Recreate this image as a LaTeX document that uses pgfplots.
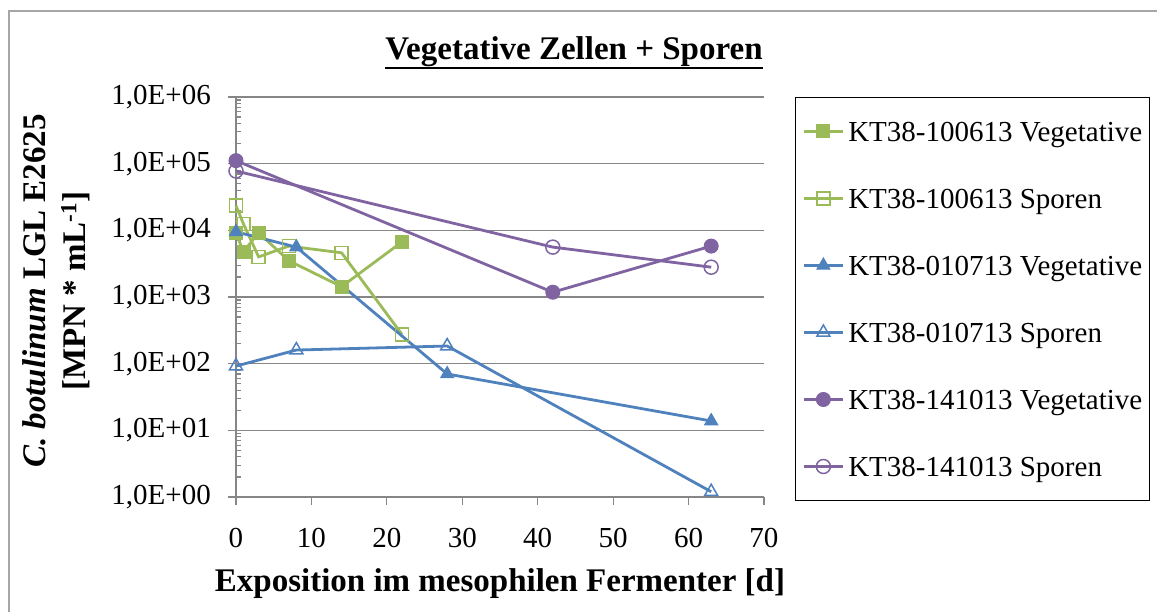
\documentclass[border=0pt]{standalone}
\usepackage{fontspec}
\setmainfont{Liberation Serif}
\usepackage{pgfplots}
\pgfplotsset{compat=1.18}
\definecolor{xlgreen}{HTML}{9BBB59}
\definecolor{xlblue}{HTML}{4F81BD}
\definecolor{xlpurple}{HTML}{8064A2}
\definecolor{xlgrid}{HTML}{868686}
\begin{document}
\begin{tikzpicture}
\useasboundingbox (0pt,0pt) rectangle (1157pt,612pt);
\draw[color=gray!70, line width=1.5pt] (9pt,0pt) -- (9pt,601pt) -- (1157pt,601pt);
\node[anchor=base, inner sep=0pt, font=\fontsize{33}{40}\selectfont\bfseries] (T) at (574pt,552pt) {Vegetative Zellen + Sporen};
\draw[line width=2.5pt] ([yshift=-8pt]T.base west) -- ([yshift=-8pt]T.base east);
\begin{axis}[
  at={(236pt,115pt)}, anchor=south west,
  scale only axis, width=528pt, height=400pt,
  xmin=0, xmax=70, ymode=log, ymin=1, ymax=1e6,
  axis x line*=bottom, axis y line*=left,
  axis line style={xlgrid, line width=1.5pt},
  xtick={0,10,20,30,40,50,60,70},
  ytick={1,10,100,1000,10000,100000,1000000},
  yticklabels={{1,0E+00},{1,0E+01},{1,0E+02},{1,0E+03},{1,0E+04},{1,0E+05},{1,0E+06}},
  ymajorgrids, major grid style={xlgrid, line width=1.3pt},
  tick align=outside, major tick length=8pt, minor tick length=5pt,
  tick style={xlgrid, line width=1.2pt},
  minor y tick style={xshift=5pt},
  ticklabel style={font=\fontsize{29}{30}\selectfont},
  /pgf/number format/assume math mode=true,
  yticklabel style={anchor=east, inner sep=0pt, xshift=-17pt},
  xticklabel style={anchor=north, inner sep=0pt, yshift=-23pt},
  xlabel={Exposition im mesophilen Fermenter [d]},
  xlabel style={at={(axis description cs:0.5,0)}, anchor=base, yshift=-95pt, inner sep=0pt, font=\fontsize{33}{40}\selectfont\bfseries},
  ylabel={\textit{C. botulinum} LGL E2625\\{[}MPN * mL\textsuperscript{-1}{]}},
  ylabel style={align=center, at={(axis description cs:0,0.5)}, anchor=south, inner sep=0pt, yshift=146pt, xshift=6pt, font=\fontsize{33}{40}\selectfont\bfseries},
  clip=false,
  legend cell align=left,
  legend style={at={(axis description cs:1.0587,1)}, anchor=north west, draw=black, line width=1pt,
    font=\fontsize{29}{30}\selectfont, inner xsep=7pt, inner ysep=18pt, row sep=35pt,
    nodes={inner sep=0pt, text height=26pt, text depth=6pt},
    /tikz/every odd column/.style={column sep=4pt}},
  legend image code/.code={\draw[mark repeat=2,mark phase=2,#1] plot coordinates {(0pt,0pt)(19.5pt,0pt)(39pt,0pt)};},
]
\addplot[color=xlgreen, line width=2.8pt, mark=square*, mark size=6.5pt, mark options={solid, line width=1pt}]
  coordinates {(0,9000) (1,4800) (3,9200) (7,3500) (14,1430) (22,6700)};
\addlegendentry{KT38-100613 Vegetative}
\addplot[color=xlgreen, line width=2.8pt, mark=square, mark size=6.5pt, mark options={solid, fill=white, line width=1.5pt}]
  coordinates {(0,23400) (1,12400) (3,4000) (7,5800) (14,4600) (22,275)};
\addlegendentry{KT38-100613 Sporen}
\addplot[color=xlblue, line width=2.8pt, mark=triangle*, mark size=7.5pt, mark options={solid, line width=1pt}]
  coordinates {(0,9500) (8,5600) (28,70) (63,13.8)};
\addlegendentry{KT38-010713 Vegetative}
\addplot[color=xlblue, line width=2.8pt, mark=triangle, mark size=7.5pt, mark options={solid, fill=white, line width=1.5pt}]
  coordinates {(0,92) (8,160) (28,184) (63,1.2)};
\addlegendentry{KT38-010713 Sporen}
\addplot[color=xlpurple, line width=2.8pt, mark=*, mark size=7pt, mark options={solid, line width=1pt}]
  coordinates {(0,111000) (42,1180) (63,5800)};
\addlegendentry{KT38-141013 Vegetative}
\addplot[color=xlpurple, line width=2.8pt, mark=o, mark size=7pt, mark options={solid, fill=white, line width=1.5pt}]
  coordinates {(0,77600) (42,5600) (63,2800)};
\addlegendentry{KT38-141013 Sporen}
\end{axis}
\end{tikzpicture}
\end{document}
